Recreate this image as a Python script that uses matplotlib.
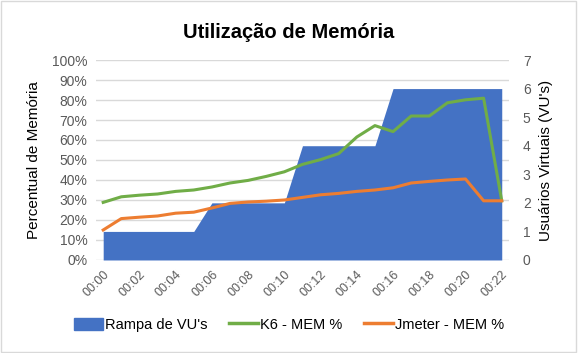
import matplotlib
matplotlib.use('Agg')
import matplotlib.pyplot as plt
import numpy as np
from matplotlib.patches import Patch
from matplotlib.lines import Line2D

plt.rcParams['font.family'] = ['Liberation Sans', 'DejaVu Sans']

tempos = ['00:%02d' % m for m in range(23)]
vus = [1, 1, 1, 1, 1, 1, 2, 2, 2, 2, 2, 4, 4, 4, 4, 4, 6, 6, 6, 6, 6, 6, 6]
k6_mem = [28.8, 31.6, 32.4, 33.0, 34.3, 35.0, 36.5, 38.5, 39.8, 41.8, 44.1, 47.8,
          50.2, 53.2, 61.5, 67.2, 64.2, 72.0, 72.0, 78.6, 80.1, 80.9, 29.6]
jmeter_mem = [15.0, 20.7, 21.4, 22.0, 23.4, 23.9, 26.0, 28.3, 29.0, 29.4, 30.0, 31.3,
              32.6, 33.3, 34.3, 35.0, 36.1, 38.5, 39.3, 40.0, 40.5, 29.6, 29.6]

azul = '#4472C4'
verde = '#70AD47'
laranja = '#ED7D31'
cinza = '#595959'

fig = plt.figure(figsize=(5.78, 3.53), dpi=100)
ax2 = fig.add_axes([0.166, 0.2635, 0.7146, 0.5665])
ax = ax2.twinx()
# eixo principal (percentual) na frente, rampa de VUs atras
ax.yaxis.tick_left()
ax.yaxis.set_label_position('left')
ax2.yaxis.tick_right()
ax2.yaxis.set_label_position('right')
ax.set_zorder(2)
ax2.set_zorder(1)
ax.patch.set_visible(False)

x = np.arange(len(tempos))

# linhas de grade (10% em 10%) desenhadas no eixo de tras
for k in range(11):
	ax2.axhline(0.7 * k, color='#D9D9D9', lw=1, zorder=0)
ax2.fill_between(x, 0, vus, color=azul, lw=0, zorder=1)
ax2.set_ylim(0, 7)
ax2.set_yticks(range(8))

ax.plot(x, k6_mem, color=verde, lw=2.2, zorder=3)
ax.plot(x, jmeter_mem, color=laranja, lw=2.2, zorder=3)
ax.set_ylim(0, 100)
ax.set_yticks(range(0, 101, 10))
ax.set_yticklabels(['%d%%' % v for v in range(0, 101, 10)])

ax2.set_xlim(-0.4, 22.4)
ax2.set_xticks(x[::2])
ax2.set_xticklabels(tempos[::2], rotation=45, ha='right', rotation_mode='anchor')

for a in (ax, ax2):
	for s in a.spines.values():
		s.set_visible(False)
	a.tick_params(length=0, colors=cinza, labelsize=10)
ax2.tick_params(axis='x', labelsize=9, pad=6)
ax.tick_params(axis='y', pad=6)
ax2.tick_params(axis='y', pad=10)

ax.set_ylabel('Percentual de Memória', fontsize=11, color='black', labelpad=8)
ax2.set_ylabel("Usuários Virtuais (VU's)", fontsize=11, color='black', labelpad=6)

fig.suptitle('Utilização de Memória', x=0.5, y=0.935, fontsize=14.5, fontweight='bold')

handles = [Patch(color=azul), Line2D([], [], color=verde, lw=2.5), Line2D([], [], color=laranja, lw=2.5)]
labels = ["Rampa de VU's", 'K6 - MEM %', 'Jmeter - MEM %']
fig.legend(handles, labels, loc='center', bbox_to_anchor=(0.5, 0.08), ncol=3, frameon=False,
           fontsize=10.5, handlelength=2.0, handleheight=0.9, handletextpad=0.1, columnspacing=1.5)

fig.patches.append(plt.Rectangle((0.002, 0.003), 0.995, 0.993, transform=fig.transFigure,
                                 fill=False, ec='#D9D9D9', lw=1))

fig.savefig('out.png', dpi=100)
